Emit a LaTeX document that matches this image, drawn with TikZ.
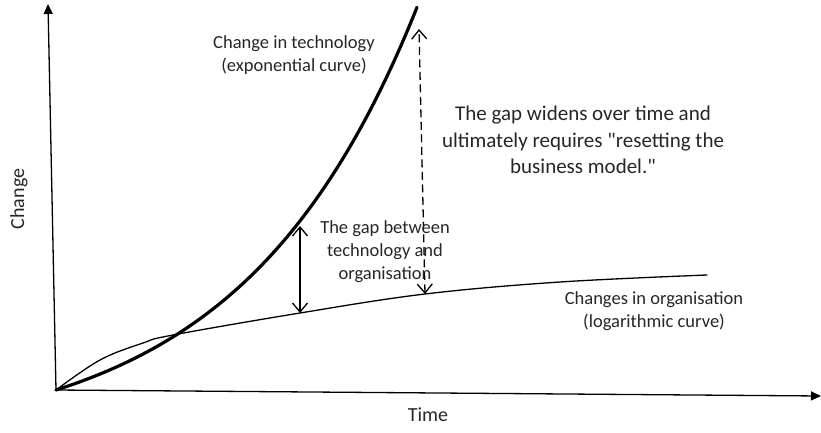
\documentclass[tikz,border=0pt]{standalone}
\usepackage{fontspec}
\setmainfont{Carlito}
\usetikzlibrary{arrows.meta}
\def\techcurve{plot [domain=56:417, samples=90] (\x, {42+55.9*(exp(0.0057*(\x-56))-1)})}
\def\orgcurve{plot [smooth, tension=0.6] coordinates {(56,42) (100,72) (143,89) (173,97) (300,119) (425,138) (560,150) (707,157)}}

\begin{document}
\begin{tikzpicture}[x=1pt, y=1pt, line width=1.3pt, text=black!85,
	font=\fontsize{18.5}{23}\selectfont,
	gaptip/.style={{Straight Barb[length=9pt,width=15pt]}-{Straight Barb[length=9pt,width=15pt]}}]
	\useasboundingbox (0,0) rectangle (821,432);

	% axes
	\coordinate (origin) at (56,42);
	\coordinate (ytop) at (48,428);
	\coordinate (xend) at (821,36);
	\draw [-{Triangle[length=10pt,width=9pt]}] (origin) -- (ytop);
	\draw [-{Triangle[length=10pt,width=9pt]}] (origin) -- (xend);
	\node (change) [rotate=90, font=\fontsize{20}{24}\selectfont] at (19,233) {Change};
	\node (time) [font=\fontsize{20}{24}\selectfont] at (428,17) {Time};

	% the two curves
	\draw [line width=3.2pt, line cap=round] \techcurve;
	\draw [line cap=round] \orgcurve;
	\node (techlabel) [align=center] at (294,377) {Change in technology\\(exponential curve)};
	\node (orglabel) [align=center] at (654,121) {Changes in organisation\\(logarithmic curve)};

	% the gap
	\coordinate (techA) at (300,206);
	\coordinate (orgA) at (300,119);
	\coordinate (techB) at (419,403);
	\coordinate (orgB) at (425,138);
	\draw [gaptip] (orgA) -- (techA);
	\draw [gaptip, dashed, dash pattern=on 8pt off 4.5pt] (orgB) -- (techB);
	\node (gaplabel) [align=center] at (385,180) {The gap between\\technology and\\organisation};
	\node (widens) [align=center, font=\fontsize{21}{26.7}\selectfont] at (583,292)
		{The gap widens over time and\\ultimately requires \textquotedbl resetting the\\business model.\textquotedbl};
\end{tikzpicture}
\end{document}
